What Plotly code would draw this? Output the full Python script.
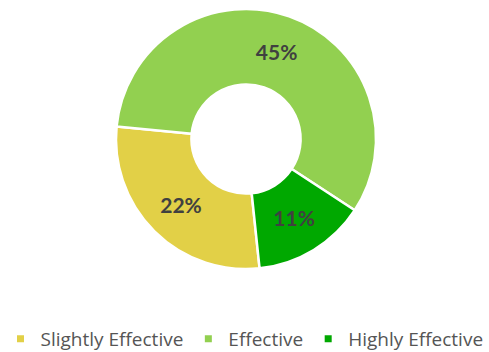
import plotly.graph_objects as go

# Survey responses by effectiveness rating
categories = ["Slightly Effective", "Effective", "Highly Effective"]
values = [22, 45, 11]
colors = ["#E2D047", "#92D050", "#00A800"]

fig = go.Figure()

fig.add_trace(go.Pie(
    labels=categories,
    values=values,
    hole=0.42,
    sort=False,
    direction="clockwise",
    rotation=174,
    marker=dict(colors=colors, line=dict(color="white", width=2.5)),
    texttemplate="%{value}%",
    textposition="inside",
    insidetextorientation="horizontal",
    textfont=dict(family="Lato", size=21, color="#404040", weight="bold"),
    hoverinfo="label+value",
    showlegend=False,
    domain=dict(x=[116 / 489, 376 / 489], y=[83 / 352, 343 / 352]),
))

# Legend entries with small square swatches
for name, col in zip(categories, colors):
    fig.add_trace(go.Scatter(
        x=[None], y=[None], mode="markers", name=name,
        marker=dict(symbol="square", size=7, color=col),
        showlegend=True,
    ))

fig.update_layout(
    width=489, height=352,
    margin=dict(l=0, r=0, t=0, b=0, autoexpand=False),
    paper_bgcolor="white", plot_bgcolor="white",
    xaxis=dict(visible=False), yaxis=dict(visible=False),
    legend=dict(
        orientation="h", x=0.5, xanchor="center", y=0.037, yanchor="middle",
        font=dict(family="Open Sans", size=19, color="#555555"),
        itemwidth=30,
    ),
)

fig.write_html("out.html")
